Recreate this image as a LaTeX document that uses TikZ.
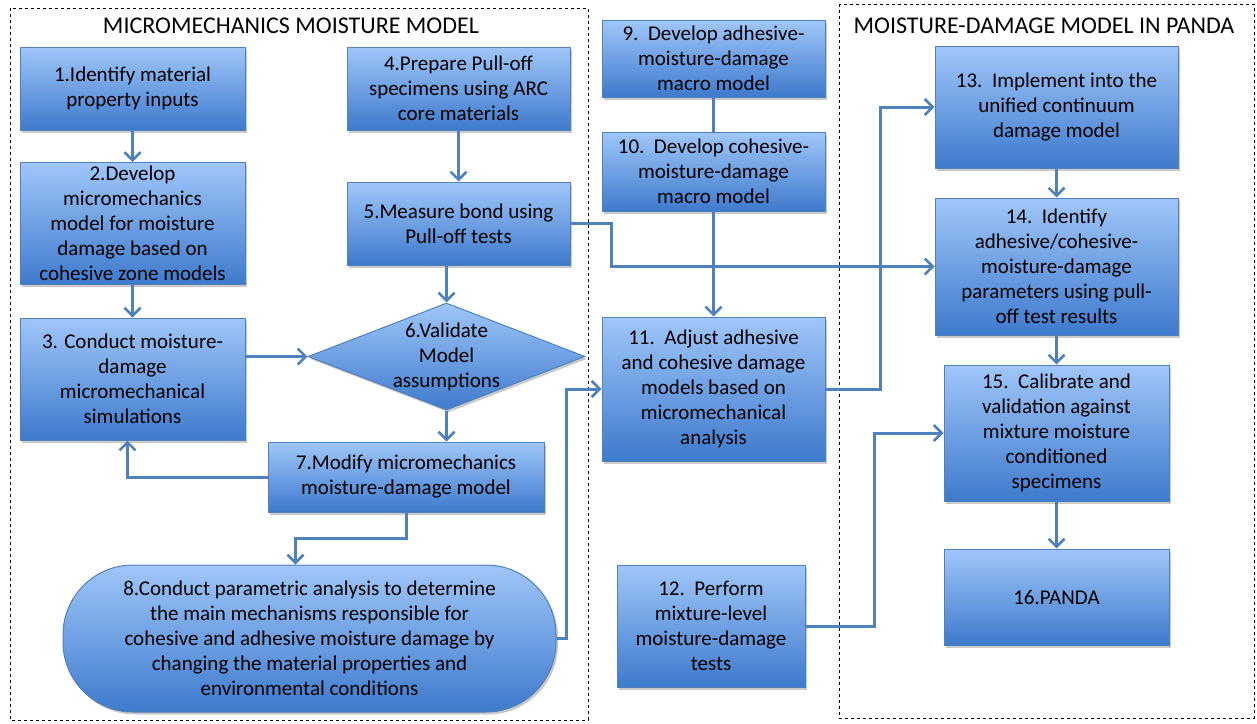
\documentclass[tikz,border=0pt]{standalone}
\usepackage{fontspec}
\setmainfont{Carlito}
\usetikzlibrary{arrows.meta,shadows,shapes.geometric,calc}
\definecolor{btop}{RGB}{160,198,250}
\definecolor{bbot}{RGB}{62,122,204}
\definecolor{bline}{RGB}{79,129,189}
\definecolor{arrc}{RGB}{79,129,189}
\begin{document}
\begin{tikzpicture}[x=1pt,y=-1pt,
  blk/.style={draw=bline, line width=1pt, top color=btop, bottom color=bbot,
    align=center, inner sep=2pt, font=\fontsize{21}{25}\selectfont,
    drop shadow={shadow xshift=2pt,shadow yshift=-2.5pt,opacity=0.3,fill=black!70}},
  conn/.style={draw=arrc, line width=3pt},
  arr/.style={conn, -{Straight Barb[length=8pt,width=16pt,line width=2.5pt]}},
  frame/.style={draw=black, dashed, line width=0.8pt},
  ttl/.style={font=\fontsize{24}{28}\selectfont, inner sep=0pt},
  lbl/.style={font=\fontsize{21}{25}\selectfont, align=center, inner sep=0pt}]
\useasboundingbox (0,0) rectangle (1257,723);
% frames
\draw[frame] (10,8) rectangle (588,720);
\draw[frame] (839,4) rectangle (1254,718);
\node[ttl] (t1) at (291,26) {MICROMECHANICS MOISTURE MODEL};
\node[ttl] (t2) at (1044,26) {MOISTURE-DAMAGE MODEL IN PANDA};
% boxes
\node[blk, minimum width=225pt, minimum height=83pt] (b1) at (132.5,88.5) {1.Identify material\\property inputs};
\node[blk, minimum width=225pt, minimum height=122pt] (b2) at (132.5,223.5) {2.Develop\\micromechanics\\model for moisture\\damage based on\\cohesive zone models};
\node[blk, minimum width=225pt, minimum height=122pt] (b3) at (132.5,379) {3. Conduct moisture-\\damage\\micromechanical\\simulations};
\node[blk, minimum width=223pt, minimum height=83pt] (b4) at (458.5,88.5) {4.Prepare Pull-off\\specimens using ARC\\core materials};
\node[blk, minimum width=223pt, minimum height=83pt] (b5) at (458.5,223.5) {5.Measure bond using\\Pull-off tests};
\node[blk, diamond, minimum width=277pt, minimum height=107pt, inner sep=0pt] (d6) at (446.5,356.5) {};
\node[lbl] (d6t) at (d6.center) {6.Validate\\Model\\assumptions};
\node[blk, minimum width=276pt, minimum height=70pt] (b7) at (406,477) {7.Modify micromechanics\\moisture-damage model};
\node[blk, rounded corners=70pt, minimum width=493pt, minimum height=147pt] (b8) at (309.5,638.5) {8.Conduct parametric analysis to determine\\the main mechanisms responsible for\\cohesive and adhesive moisture damage by\\changing the material properties and\\environmental conditions};
\node[blk, minimum width=223pt, minimum height=77pt] (b9) at (713.5,58.5) {9.~~Develop adhesive-\\moisture-damage\\macro model};
\node[blk, minimum width=223pt, minimum height=79pt] (b10) at (713.5,171.5) {10.~~Develop cohesive-\\moisture-damage\\macro model};
\node[blk, minimum width=223pt, minimum height=144pt] (b11) at (713.5,389) {11.~~Adjust adhesive\\and cohesive damage\\models based on\\micromechanical\\analysis};
\node[blk, minimum width=188pt, minimum height=122pt] (b12) at (711,626) {12.~~Perform\\mixture-level\\moisture-damage\\tests};
\node[blk, minimum width=243pt, minimum height=122pt] (b13) at (1056.5,107) {13.~~Implement into the\\unified continuum\\damage model};
\node[blk, minimum width=243pt, minimum height=137pt] (b14) at (1056.5,266.5) {14.~~Identify\\adhesive/cohesive-\\moisture-damage\\parameters using pull-\\off test results};
\node[blk, minimum width=225pt, minimum height=136pt] (b15) at (1056.5,433) {15.~~Calibrate and\\validation against\\mixture moisture\\conditioned\\specimens};
\node[blk, minimum width=225pt, minimum height=96pt] (b16) at (1056.5,597) {16.PANDA};
% connectors
\draw[arr] (b1.south) -- (b2.north);
\draw[arr] (b2.south) -- (b3.north);
\draw[arr] (b4.south) -- (b5.north);
\draw[arr] (b5.south -| d6.north) -- (d6.north);
\draw[arr] (b3.east |- d6.west) -- (d6.west);
\draw[arr] (d6.south) -- (d6.south |- b7.north);
\draw[arr] (b7.west) -| ($(b3.south)+(-5,0)$);
\draw[arr] (b7.south) -- ++(0,26) -| ($(b8.north)+(-14,0)$);
\draw[arr] (b8.east) -- ++(10,0) |- (b11.west);
\draw[conn] (b9.south) -- (b10.north);
\draw[arr] (b10.south) -- (b11.north);
\draw[arr] (b5.east) -- ++(41,0) |- (b14.west);
\draw[arr] (b11.east) -- ++(55,0) |- (b13.west);
\draw[arr] (b12.east) -- ++(69,0) |- (b15.west);
\draw[arr] (b13.south) -- (b14.north);
\draw[arr] (b14.south) -- (b15.north);
\draw[arr] (b15.south) -- (b16.north);
\end{tikzpicture}
\end{document}
